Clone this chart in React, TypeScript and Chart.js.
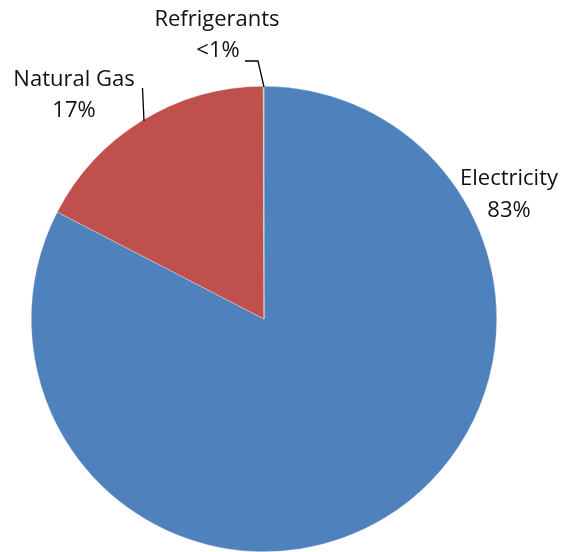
import React, { useEffect, useRef } from "react";
import { Chart, registerables } from "chart.js";

Chart.register(...registerables);

const categories = ["Electricity", "Natural Gas", "Refrigerants"];
const values = [82.6, 17.35, 0.05];
const pctLabels = ["83%", "17%", "<1%"];
const colors = ["#4F81BD", "#C0504D", "#9BBB59"];

const labelPlugin = {
  id: "pieLabels",
  afterDraw(chart: any) {
    const ctx = chart.ctx;
    ctx.save();
    ctx.font = '22px "Open Sans", "Liberation Sans", sans-serif';
    ctx.fillStyle = "#111";
    ctx.textAlign = "center";
    ctx.textBaseline = "middle";
    const pos = [
      [509, 179, 509, 211],
      [74, 80, 74, 111],
      [217, 20, 218, 51],
    ];
    categories.forEach((c, i) => {
      const p = pos[i];
      ctx.fillText(c, p[0], p[1]);
      ctx.fillText(pctLabels[i], p[2], p[3]);
    });
    ctx.strokeStyle = "#000";
    ctx.lineWidth = 1.3;
    ctx.beginPath();
    ctx.moveTo(245, 61);
    ctx.lineTo(258, 61);
    ctx.lineTo(264, 87);
    ctx.moveTo(142.5, 88);
    ctx.lineTo(144, 121);
    ctx.stroke();
    ctx.restore();
  },
};

export default function App() {
  const ref = useRef<HTMLCanvasElement>(null);
  useEffect(() => {
    const chart = new Chart(ref.current!, {
      type: "pie",
      data: {
        labels: categories,
        datasets: [
          {
            data: values,
            backgroundColor: colors,
            borderColor: "rgba(255,255,255,0.6)",
            borderWidth: 0.5,
          },
        ],
      },
      options: {
        responsive: false,
        animation: false,
        layout: { padding: { top: 86, bottom: 0, left: 31, right: 67 } },
        plugins: { legend: { display: false }, tooltip: { enabled: false } },
      },
      plugins: [labelPlugin],
    });
    return () => chart.destroy();
  }, []);
  return (
    <div style={{ position: "absolute", left: 0, top: 0, width: 564, height: 552, background: "#fff" }}>
      <canvas ref={ref} width={564} height={552} />
    </div>
  );
}
